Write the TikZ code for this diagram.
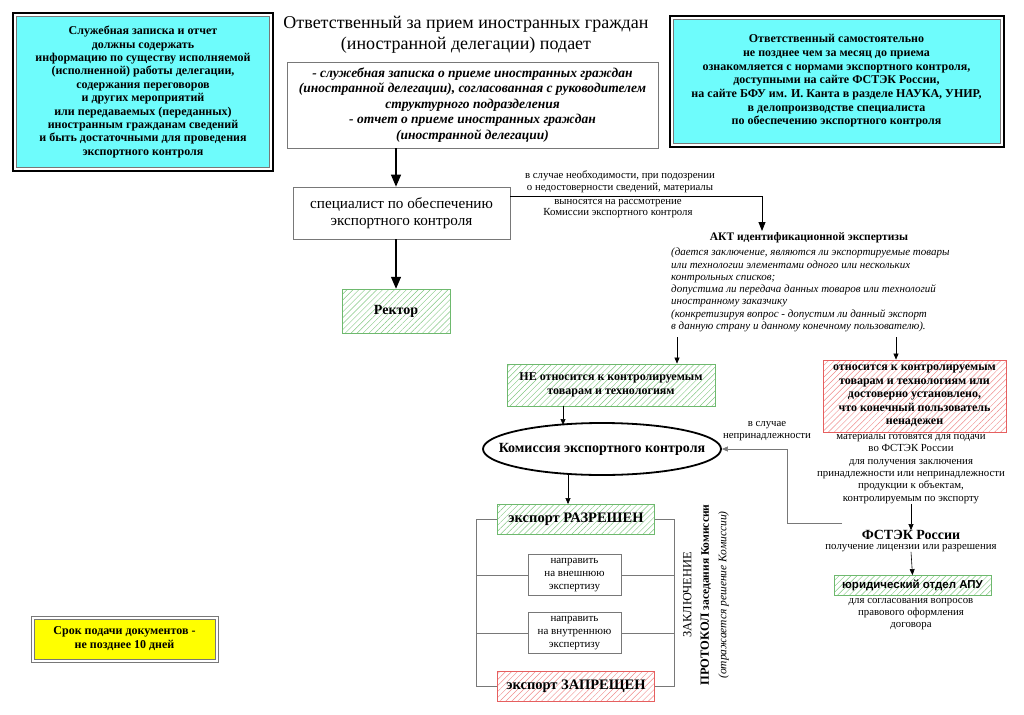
\documentclass[tikz,border=0pt]{standalone}
\usepackage{fontspec}
\setmainfont{Liberation Serif}
\newfontfamily\arialf{Liberation Sans}
\usetikzlibrary{patterns.meta,arrows.meta,shapes.geometric}
\definecolor{cybg}{RGB}{110,252,252}
\definecolor{ylbg}{RGB}{255,255,0}
\definecolor{gbord}{RGB}{110,185,110}
\definecolor{ghatch}{RGB}{130,200,130}
\definecolor{rbord}{RGB}{230,95,95}
\definecolor{rhatch}{RGB}{240,140,140}
\definecolor{lgray}{RGB}{120,120,120}
\newcommand{\fs}[2]{\fontsize{#1}{#2}\selectfont}
\begin{document}
\begin{tikzpicture}[x=1pt,y=-1pt,
  txt/.style={inner sep=0pt, align=center},
  plainbox/.style={draw=lgray, line width=0.7pt, inner sep=0pt, align=center},
  cybox/.style={draw=lgray, line width=0.6pt, fill=cybg, inner sep=0pt, align=center},
  frame/.style={draw=black, line width=1.6pt, inner sep=0pt},
  ghbox/.style={draw=gbord, line width=0.8pt, pattern={Lines[angle=45,distance=4.2pt,line width=0.45pt]}, pattern color=ghatch, inner sep=0pt, align=center},
  rhbox/.style={draw=rbord, line width=0.8pt, pattern={Lines[angle=45,distance=4.2pt,line width=0.45pt]}, pattern color=rhatch, inner sep=0pt, align=center},
  bigarr/.style={draw=black, line width=1.2pt, -{Triangle[length=12pt,width=10pt]}},
  medarr/.style={draw=black, line width=0.9pt, -{Triangle[length=9pt,width=7pt]}},
  smarr/.style={draw=black, line width=0.6pt, -{Triangle[length=6pt,width=5pt]}},
  grarr/.style={draw=lgray, line width=0.6pt, -{Triangle[length=6pt,width=5pt]}},
  brk/.style={draw=lgray, line width=0.6pt}
]
\useasboundingbox[fill=white] (0,0) rectangle (1024,714);

% left cyan box
\node[frame, minimum width=260pt, minimum height=158pt] (lframe) at (143,92) {};
\node[cybox, minimum width=253pt, minimum height=151pt, font=\fs{12}{13.4}\bfseries] (lbox) at (143,92)
 {Служебная записка и отчет\\должны содержать\\информацию по существу исполняемой\\(исполненной) работы делегации,\\содержания переговоров\\и других мероприятий\\или передаваемых (переданных)\\иностранным гражданам сведений\\и быть достаточными для проведения\\экспортного контроля};

% title
\node[txt, font=\fs{18}{21}] (title) at (466,35)
 {Ответственный за прием иностранных граждан\\(иностранной делегации) подает};

% italic box
\node[plainbox, minimum width=371pt, minimum height=86pt, font=\fs{13.5}{15.5}\bfseries\itshape] (ibox) at (472.5,105)
 {- служебная записка о приеме иностранных граждан\\(иностранной делегации), согласованная с руководителем\\структурного подразделения\\- отчет о приеме иностранных граждан\\(иностранной делегации)};

% right cyan box
\node[frame, minimum width=334pt, minimum height=131pt] (rframe) at (837,81.5) {};
\node[cybox, minimum width=327pt, minimum height=124pt, font=\fs{12}{13.7}\bfseries] (rbox) at (836.5,81)
 {Ответственный самостоятельно\\не позднее чем за месяц до приема\\ознакомляется с нормами экспортного контроля,\\доступными на сайте ФСТЭК России,\\на сайте БФУ им. И. Канта в разделе НАУКА, УНИР,\\в делопроизводстве специалиста\\по обеспечению экспортного контроля};

% specialist
\node[plainbox, minimum width=217pt, minimum height=52pt, font=\fs{15.2}{17}] (spec) at (401.5,213)
 {специалист по обеспечению\\экспортного контроля};

% rector
\node[ghbox, minimum width=108pt, minimum height=44pt, font=\fs{14}{16}\bfseries] (rektor) at (396,311) {Ректор};

% labels along the line
\node[txt, font=\fs{10.8}{12}] (lab1) at (620,182)
 {в случае необходимости, при подозрении\\о недостоверности сведений, материалы};
\node[txt, font=\fs{10.8}{11}] (lab2) at (618,209)
 {выносятся на рассмотрение\\Комиссии экспортного контроля};
\coordinate (aktin) at (762,231);

% AKT
\node[txt, font=\fs{11.5}{13}\bfseries] (akt) at (809,238) {АКТ идентификационной экспертизы};
\node[txt, align=left, anchor=west, font=\fs{11}{12.3}\itshape] (akttxt) at (671,290)
 {(дается заключение, являются ли экспортируемые товары\\или технологии элементами одного или нескольких\\контрольных списков;\\допустима ли передача данных товаров или технологий\\иностранному заказчику\\(конкретизируя вопрос - допустим ли данный экспорт\\в данную страну и данному конечному пользователю).};
\coordinate (aktl) at (677,337);
\coordinate (aktr) at (896,337);

% NE box
\node[ghbox, minimum width=208pt, minimum height=42pt, font=\fs{12}{13.5}\bfseries] (ne) at (611,385)
 {НЕ относится к контролируемым\\товарам и технологиям};

% red box
\node[rhbox, minimum width=183pt, minimum height=72pt, font=\fs{12}{13.5}\bfseries] (red) at (914.5,396)
 {относится к контролируемым\\товарам и технологиям или\\достоверно установлено,\\что конечный пользователь\\ненадежен};
\node[txt, font=\fs{10.8}{12.4}] (mat) at (911,469)
 {материалы готовятся для подачи\\во ФСТЭК России\\для получения заключения\\принадлежности или непринадлежности\\продукции к объектам,\\контролируемым по экспорту};

% ellipse
\node[ellipse, draw=black, line width=1.8pt, minimum width=238pt, minimum height=52pt, inner sep=0pt] (kom) at (602,449) {};
\node[txt, font=\fs{14}{15}\bfseries] (komtxt) at (kom.center) {Комиссия экспортного контроля};
\coordinate (kin) at (563,425);
\coordinate (kout) at (568,475);
\node[txt, font=\fs{10.8}{11.5}] (nepr) at (767,431) {в случае\\непринадлежности};

% FSTEK
\node[txt, font=\fs{14}{15}\bfseries] (fstek) at (911,535) {ФСТЭК России};
\node[txt, font=\fs{10.8}{12}] (lic) at (911,548) {получение лицензии или разрешения};
\coordinate (fsl) at (842,523);
\node[ghbox, minimum width=157pt, minimum height=20pt, font=\arialf\fs{11.5}{13}\bfseries] (jur) at (912.5,585.5) {юридический отдел АПУ};
\node[txt, font=\fs{10.8}{12.2}] (jurtxt) at (911,614)
 {для согласования вопросов\\правового оформления\\договора};

% decision boxes
\node[ghbox, minimum width=157pt, minimum height=30pt, font=\fs{14.5}{15}\bfseries] (razr) at (576,519.5) {экспорт РАЗРЕШЕН};
\node[plainbox, minimum width=93pt, minimum height=41pt, font=\fs{11}{12.6}] (vnesh) at (574.5,575) {направить\\на внешнюю\\экспертизу};
\node[plainbox, minimum width=93pt, minimum height=41pt, font=\fs{11}{12.6}] (vnutr) at (574.5,633) {направить\\на внутреннюю\\экспертизу};
\node[rhbox, minimum width=157pt, minimum height=30pt, font=\fs{14.5}{15}\bfseries] (zapr) at (576,686) {экспорт ЗАПРЕЩЕН};
\coordinate (lbr) at (476,0);
\coordinate (rbr) at (674,0);

% rotated conclusion
\node[txt, rotate=90, font=\fs{12.5}{17.5}] (zakl) at (706,595)
 {ЗАКЛЮЧЕНИЕ\\{\bfseries ПРОТОКОЛ {\fs{11.5}{17.5}заседания Комиссии}}\\{\itshape\fs{11.5}{17.5}(отражается решение Комиссии)}};

% yellow box
\node[draw=lgray, line width=0.8pt, minimum width=187pt, minimum height=46pt, inner sep=0pt] (yframe) at (124.5,639) {};
\node[draw=lgray, line width=0.6pt, fill=ylbg, minimum width=181pt, minimum height=40pt, inner sep=0pt, align=center, font=\fs{12}{14}\bfseries] (ybox) at (124.5,639)
 {Срок подачи документов -\\не позднее 10 дней};

% connectors
\draw[bigarr] (ibox.south -| rektor.north) -- (spec.north -| rektor.north);
\draw[bigarr] (spec.south -| rektor.north) -- (rektor.north);
\draw[medarr] ([yshift=-10pt]spec.north east) -| (aktin);
\draw[smarr] (aktl) -- (ne.north -| aktl);
\draw[smarr] (aktr) -- (red.north -| aktr);
\draw[smarr] (ne.south -| kin) -- (kin);
\draw[smarr] (kout) -- (razr.north -| kout);
\draw[smarr] (mat.south) -- (fstek.north);
\draw[smarr] (lic.south) -- (jur.north);
\draw[grarr] (fsl) -- ++(-55,0) |- (kom.east);

% bracket
\draw[brk] (razr.west) -- (razr.west -| lbr) -- (zapr.west -| lbr) -- (zapr.west);
\draw[brk] (vnesh.west) -- (vnesh.west -| lbr);
\draw[brk] (vnutr.west) -- (vnutr.west -| lbr);
\draw[brk] (razr.east) -- (razr.east -| rbr) -- (zapr.east -| rbr) -- (zapr.east);
\draw[brk] (vnesh.east) -- (vnesh.east -| rbr);
\draw[brk] (vnutr.east) -- (vnutr.east -| rbr);
\end{tikzpicture}
\end{document}
